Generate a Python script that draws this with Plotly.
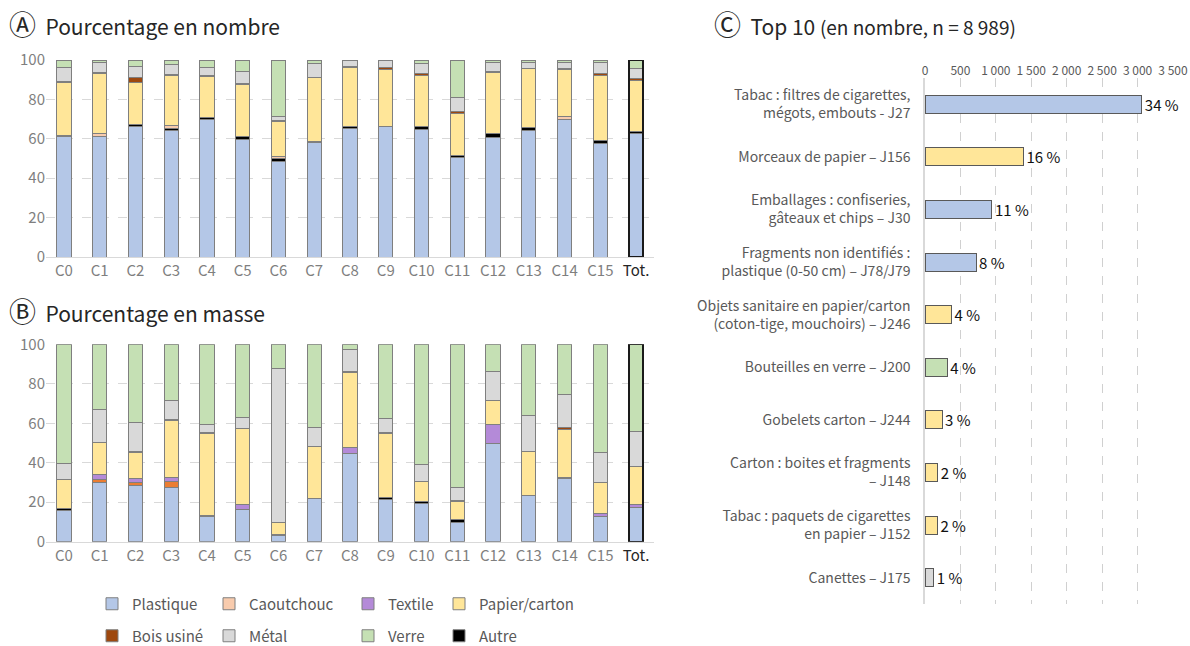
import plotly.graph_objects as go

# ---------------- data ----------------
categories = ["C0", "C1", "C2", "C3", "C4", "C5", "C6", "C7", "C8", "C9",
              "C10", "C11", "C12", "C13", "C14", "C15", "Tot."]

series_names = ["Plastique", "Autre", "Caoutchouc", "Textile", "Papier/carton",
                "Bois usiné", "Métal", "Verre"]

# Panel A: percentage by number
a_plastique = [61.0, 61.0, 66.4, 64.4, 69.8, 59.7, 48.6, 58.0, 65.1, 66.1, 64.7, 50.5, 60.5, 64.1, 69.8, 57.6, 62.7]
a_autre     = [0.8, 0.4, 1.0, 0.6, 0.9, 1.3, 1.4, 0.6, 1.3, 0.0, 1.4, 1.2, 2.2, 1.5, 0.0, 1.7, 1.0]
a_caout     = [0.0, 1.2, 0.0, 1.8, 0.0, 0.0, 1.2, 0.0, 0.0, 0.0, 0.0, 0.0, 0.0, 0.0, 1.5, 0.0, 0.0]
a_textile   = [0.0, 0.0, 0.0, 0.0, 0.0, 0.0, 0.0, 0.0, 0.0, 0.0, 0.0, 0.0, 0.0, 0.0, 0.0, 0.0, 0.0]
a_papier    = [26.8, 30.6, 21.1, 25.1, 20.8, 26.6, 17.4, 32.6, 30.0, 29.3, 26.1, 21.2, 30.9, 30.2, 23.9, 32.9, 26.1]
a_bois      = [0.7, 0.5, 2.7, 0.6, 0.4, 0.5, 0.5, 0.0, 0.4, 0.7, 0.7, 1.2, 0.4, 0.0, 0.7, 0.7, 0.9]
a_metal     = [6.8, 4.9, 5.4, 5.3, 4.4, 6.3, 2.1, 6.8, 2.9, 3.4, 5.4, 6.7, 4.8, 3.0, 2.9, 5.9, 5.1]
a_verre     = [3.9, 1.4, 3.4, 2.2, 3.7, 5.6, 28.8, 2.0, 0.3, 0.5, 1.7, 19.2, 1.2, 1.2, 1.2, 1.2, 4.2]

# Panel B: percentage by mass
b_plastique = [16.0, 30.1, 28.4, 27.4, 12.7, 16.4, 3.0, 22.0, 44.8, 21.6, 19.4, 9.8, 49.8, 23.6, 31.8, 12.7, 17.4]
b_autre     = [1.0, 0.0, 0.0, 0.0, 0.0, 0.0, 0.7, 0.0, 0.0, 0.9, 0.9, 1.2, 0.0, 0.0, 0.6, 0.0, 0.0]
b_caout     = [0.0, 1.5, 1.5, 3.3, 0.0, 0.0, 0.0, 0.0, 0.0, 0.0, 0.0, 0.0, 0.0, 0.0, 0.0, 0.0, 0.0]
b_textile   = [0.0, 2.2, 2.2, 1.9, 0.8, 2.5, 0.0, 0.0, 3.0, 0.0, 0.0, 0.0, 9.7, 0.0, 0.0, 1.5, 1.2]
b_papier    = [14.6, 16.5, 13.2, 28.7, 41.4, 38.2, 6.1, 26.1, 38.0, 32.2, 10.3, 9.6, 11.8, 22.0, 24.5, 15.9, 19.4]
b_bois      = [0.0, 0.0, 0.3, 0.4, 0.5, 0.0, 0.0, 0.0, 0.5, 0.7, 0.0, 0.5, 0.0, 0.0, 0.7, 0.0, 0.0]
b_metal     = [7.8, 16.8, 14.7, 9.6, 4.2, 5.9, 78.0, 9.8, 11.2, 6.8, 8.6, 6.3, 14.8, 18.1, 17.1, 15.0, 17.7]
b_verre     = [60.6, 32.9, 39.7, 28.7, 40.4, 37.0, 12.2, 42.1, 2.5, 37.8, 60.8, 72.6, 13.9, 36.3, 25.3, 54.9, 44.3]

# Panel C: top 10 items (count)
top_labels = [
    "Tabac : filtres de cigarettes,<br>mégots, embouts - J27",
    "Morceaux de papier – J156",
    "Emballages : confiseries,<br>gâteaux et chips – J30",
    "Fragments non identifiés :<br>plastique (0-50 cm) – J78/J79",
    "Objets sanitaire en papier/carton<br>(coton-tige, mouchoirs) – J246",
    "Bouteilles en verre – J200",
    "Gobelets carton – J244",
    "Carton : boites et fragments<br>– J148",
    "Tabac : paquets de cigarettes<br>en papier – J152",
    "Canettes – J175",
]
top_counts = [3060, 1390, 945, 720, 375, 315, 240, 180, 175, 125]
top_pct = ["34 %", "16 %", "11 %", "8 %", "4 %", "4 %", "3 %", "2 %", "2 %", "1 %"]
top_material = ["Plastique", "Papier/carton", "Plastique", "Plastique", "Papier/carton",
                "Verre", "Papier/carton", "Papier/carton", "Papier/carton", "Métal"]
c_ticks = [0, 500, 1000, 1500, 2000, 2500, 3000, 3500]
c_ticktext = ["0", "500", "1 000", "1 500", "2 000", "2 500", "3 000", "3 500"]

# ---------------- styles ----------------
W, H = 1190, 646
FONT = "Noto Sans CJK SC, Noto Sans, sans-serif"
GREY = "#595959"
colors = {
    "Plastique": "#B4C7E7",
    "Autre": "#000000",
    "Caoutchouc": "#F8CBAD",
    "Textile": "#B48AD8",
    "Papier/carton": "#FFE699",
    "Bois usiné": "#9E480E",
    "Métal": "#D9D9D9",
    "Verre": "#C5E0B4",
}
b_colors = dict(colors)
b_colors["Caoutchouc"] = "#EB7D32"
legend_of = {"Plastique": "legend", "Caoutchouc": "legend", "Textile": "legend", "Papier/carton": "legend",
             "Bois usiné": "legend2", "Métal": "legend2", "Verre": "legend2", "Autre": "legend2"}
rank = {"Plastique": 1, "Caoutchouc": 2, "Textile": 3, "Papier/carton": 4,
        "Bois usiné": 5, "Métal": 6, "Verre": 7, "Autre": 8}
# legend column widths (px) so that the two rows line up
col_width = {"Plastique": 72, "Bois usiné": 72, "Caoutchouc": 94, "Métal": 94,
             "Textile": 46, "Verre": 46, "Papier/carton": 115, "Autre": 115}

a_data = [a_plastique, a_autre, a_caout, a_textile, a_papier, a_bois, a_metal, a_verre]
b_data = [b_plastique, b_autre, b_caout, b_textile, b_papier, b_bois, b_metal, b_verre]

def nz(vals):
    return [v if v > 0 else None for v in vals]

BW = 0.4
fig = go.Figure()
for name, vals in zip(series_names, a_data):
    fig.add_trace(go.Bar(
        x=categories, y=nz(vals), name=name, width=BW,
        marker=dict(color=colors[name], line=dict(color="#7F7F7F", width=1)),
        xaxis="x", yaxis="y", legendgroup=name, legend=legend_of[name],
        legendrank=rank[name], legendwidth=col_width[name], showlegend=True, hoverinfo="skip"))
for name, vals in zip(series_names, b_data):
    fig.add_trace(go.Bar(
        x=categories, y=nz(vals), name=name, width=BW,
        marker=dict(color=b_colors[name], line=dict(color="#7F7F7F", width=1)),
        xaxis="x2", yaxis="y2", legendgroup=name, legend=legend_of[name],
        showlegend=False, hoverinfo="skip"))

# Outline of the total bars
tot_a = sum(v[-1] for v in a_data)
tot_b = sum(v[-1] for v in b_data)
fig.add_trace(go.Bar(x=[categories[-1]], y=[tot_a], width=BW, xaxis="x4", yaxis="y",
                     marker=dict(color="rgba(0,0,0,0)", line=dict(color="#1a1a1a", width=2)),
                     showlegend=False, hoverinfo="skip"))
fig.add_trace(go.Bar(x=[categories[-1]], y=[tot_b], width=BW, xaxis="x5", yaxis="y2",
                     marker=dict(color="rgba(0,0,0,0)", line=dict(color="#1a1a1a", width=2)),
                     showlegend=False, hoverinfo="skip"))

# Panel C
fig.add_trace(go.Bar(
    x=top_counts, y=top_labels, orientation="h", width=0.34,
    marker=dict(color=[colors[m] for m in top_material], line=dict(color="#595959", width=1)),
    text=top_pct, textposition="outside", cliponaxis=False, constraintext="none",
    textfont=dict(family=FONT, size=15, color="#111111"),
    xaxis="x3", yaxis="y3", showlegend=False, hoverinfo="skip"))

ticktext_cat = [c if c != "Tot." else '<span style="color:#262626">Tot.</span>' for c in categories]

def px_x(p):
    return p / W

def px_y(p):
    return 1 - p / H

cat_axis = dict(type="category", categoryorder="array", categoryarray=categories,
                range=[-0.5, len(categories) - 0.5], tickvals=categories, ticktext=ticktext_cat,
                tickfont=dict(family=FONT, size=15, color="#7F7F7F"),
                showline=True, linecolor="#D9D9D9", linewidth=1, ticks="", showgrid=False,
                fixedrange=True)
val_axis = dict(range=[0, 100], tickvals=[0, 20, 40, 60, 80, 100],
                tickfont=dict(family=FONT, size=15, color="#7F7F7F"),
                showgrid=True, gridcolor="#D9D9D9", griddash="dash", gridwidth=1,
                zeroline=False, showline=False, ticks="", fixedrange=True)

xdom = [px_x(46), px_x(654)]
legend_common = dict(orientation="h", xanchor="left", yanchor="middle",
                     entrywidthmode="pixels", traceorder="normal",
                     font=dict(family=FONT, size=15, color=GREY), bgcolor="rgba(0,0,0,0)")
fig.update_layout(
    width=W, height=H,
    margin=dict(l=0, r=0, t=0, b=0, autoexpand=False),
    paper_bgcolor="white", plot_bgcolor="white",
    barmode="stack",
    font=dict(family=FONT, color=GREY),
    xaxis=dict(cat_axis, domain=xdom, anchor="y"),
    yaxis=dict(val_axis, domain=[px_y(257), px_y(60)], anchor="x"),
    xaxis2=dict(cat_axis, domain=xdom, anchor="y2"),
    yaxis2=dict(val_axis, domain=[px_y(541.7), px_y(344.3)], anchor="x2"),
    xaxis4=dict(type="category", categoryorder="array", categoryarray=categories,
                range=[-0.5, len(categories) - 0.5], overlaying="x", visible=False),
    xaxis5=dict(type="category", categoryorder="array", categoryarray=categories,
                range=[-0.5, len(categories) - 0.5], overlaying="x2", visible=False),
    xaxis3=dict(domain=[px_x(925), px_x(1173)], anchor="y3", side="top", range=[0, 3500],
                tickvals=c_ticks, ticktext=c_ticktext,
                tickfont=dict(family=FONT, size=12, color=GREY),
                showgrid=True, gridcolor="#D0D0D0", griddash="dash", gridwidth=1,
                zeroline=False, showline=False, ticks="", fixedrange=True),
    yaxis3=dict(domain=[px_y(604), px_y(78)], anchor="x3", type="category",
                categoryorder="array", categoryarray=top_labels, autorange="reversed",
                tickfont=dict(family=FONT, size=14, color=GREY),
                showline=True, linecolor="#D9D9D9", linewidth=1.5, ticks="",
                ticklabelstandoff=10, showgrid=False, fixedrange=True),
    legend=dict(legend_common, x=px_x(92), y=px_y(604)),
    legend2=dict(legend_common, x=px_x(92), y=px_y(636)),
)

title_font = dict(family=FONT, size=21, color="#262626")
circ = '<span style="font-size:27px">{}</span>  '
fig.add_annotation(text=circ.format("Ⓐ") + "Pourcentage en nombre", x=px_x(7), y=px_y(24),
                   xref="paper", yref="paper",
                   xanchor="left", yanchor="middle", showarrow=False, font=title_font)
fig.add_annotation(text=circ.format("Ⓑ") + "Pourcentage en masse", x=px_x(7), y=px_y(310),
                   xref="paper", yref="paper",
                   xanchor="left", yanchor="middle", showarrow=False, font=title_font)
fig.add_annotation(text=circ.format("Ⓒ") + 'Top 10 <span style="font-size:19px">(en nombre, n = 8 989)</span>',
                   x=px_x(712), y=px_y(24), xref="paper", yref="paper",
                   xanchor="left", yanchor="middle", showarrow=False, font=title_font)

fig.write_html("out.html", config={"displayModeBar": False},
               post_script="document.body.style.margin='0px';")
